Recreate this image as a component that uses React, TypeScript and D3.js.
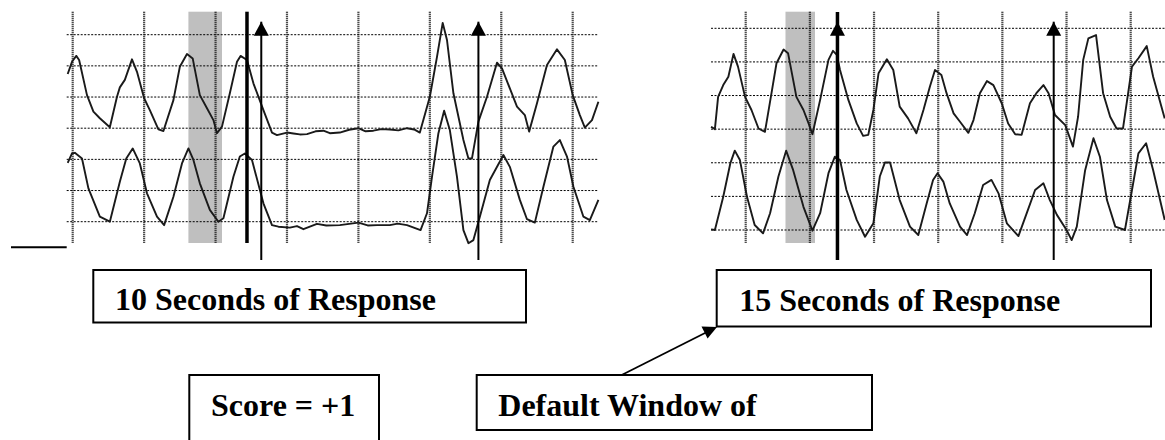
import * as d3 from "d3";

// t = grid divisions from the first vertical line, v = divisions above the lowest horizontal line
const leftGridT = [0, 1, 2, 3, 4, 5, 6, 7];
const leftGridV = [0, 1, 2, 3, 4, 5, 6];
const rightGridT = [0, 1, 2, 3, 4, 5, 6];
const rightGridV = [0, 1, 2, 3, 4, 5, 6];

const leftUpper: [number, number][] = [
  [-0.07, 4.74], [-0.01, 5.13], [0.05, 5.32], [0.09, 5.19], [0.2, 4.06], [0.29, 3.53], [0.38, 3.32],
  [0.52, 3.03], [0.62, 4.01], [0.66, 4.31], [0.73, 4.55], [0.83, 5.21], [0.9, 4.81], [1.0, 3.96],
  [1.08, 3.58], [1.2, 2.96], [1.27, 2.91], [1.41, 3.9], [1.5, 4.97], [1.6, 5.38], [1.68, 5.24],
  [1.78, 4.06], [1.88, 3.64], [1.97, 3.26], [2.02, 2.84], [2.09, 3.05], [2.2, 4.12], [2.3, 5.13],
  [2.35, 5.32], [2.44, 5.19], [2.53, 4.44], [2.67, 3.58], [2.79, 2.86], [2.86, 2.78], [3.0, 2.86],
  [3.09, 2.83], [3.18, 2.8], [3.28, 2.81], [3.4, 2.9], [3.51, 2.92], [3.6, 2.84], [3.74, 2.86],
  [3.87, 2.95], [4.0, 3.0], [4.1, 2.9], [4.21, 2.92], [4.32, 2.97], [4.44, 2.96], [4.56, 2.93],
  [4.68, 3.0], [4.78, 2.96], [4.86, 2.86], [5.0, 4.01], [5.1, 5.29], [5.18, 6.38], [5.24, 5.83],
  [5.33, 4.12], [5.47, 2.62], [5.54, 2.03], [5.59, 2.03], [5.68, 3.21], [5.8, 4.01], [5.94, 5.1],
  [6.01, 4.92], [6.22, 3.69], [6.33, 3.42], [6.39, 2.89], [6.5, 3.8], [6.64, 5.03], [6.78, 5.53],
  [6.89, 5.19], [7.0, 4.06], [7.1, 3.42], [7.17, 3.02], [7.27, 3.26], [7.36, 3.85],
];

const leftLower: [number, number][] = [
  [-0.07, 1.89], [-0.01, 2.19], [0.03, 2.21], [0.13, 2.03], [0.22, 1.07], [0.38, 0.16], [0.52, 0.0],
  [0.66, 1.28], [0.75, 2.03], [0.84, 2.35], [0.94, 1.87], [1.04, 0.91], [1.18, 0.16], [1.28, -0.11],
  [1.41, 0.8], [1.53, 1.87], [1.62, 2.35], [1.69, 1.98], [1.78, 1.23], [1.92, 0.38], [2.04, 0.0],
  [2.11, 0.11], [2.25, 1.44], [2.34, 2.09], [2.41, 2.19], [2.51, 1.98], [2.67, 0.59], [2.79, -0.11],
  [2.88, -0.16], [3.04, -0.19], [3.14, -0.14], [3.23, -0.24], [3.42, -0.07], [3.55, -0.12],
  [3.74, -0.11], [4.0, -0.03], [4.13, -0.12], [4.26, -0.11], [4.44, -0.11], [4.55, -0.06],
  [4.68, -0.11], [4.87, -0.27], [4.96, 0.27], [5.03, 1.44], [5.12, 2.84], [5.2, 3.56], [5.28, 2.94],
  [5.38, 1.44], [5.47, -0.27], [5.54, -0.69], [5.61, -0.59], [5.7, 0.16], [5.84, 1.34], [6.03, 2.14],
  [6.12, 1.76], [6.26, 0.7], [6.36, 0.08], [6.47, -0.03], [6.59, 1.12], [6.73, 2.41], [6.82, 2.62],
  [6.92, 2.09], [7.01, 1.12], [7.15, 0.16], [7.24, 0.05], [7.36, 0.7],
];

const rightUpper: [number, number][] = [
  [-0.54, 3.07], [-0.48, 3.0], [-0.43, 3.96], [-0.35, 4.31], [-0.27, 4.56], [-0.19, 5.24],
  [-0.12, 4.86], [-0.01, 3.96], [0.09, 3.57], [0.2, 3.02], [0.3, 2.92], [0.41, 4.16], [0.48, 4.96],
  [0.59, 5.37], [0.66, 5.26], [0.79, 3.96], [0.9, 3.57], [0.98, 3.17], [1.04, 2.85], [1.16, 3.87],
  [1.29, 5.06], [1.36, 5.33], [1.42, 5.21], [1.47, 4.76], [1.6, 3.87], [1.73, 3.17], [1.83, 2.8],
  [1.91, 2.83], [1.99, 3.57], [2.07, 4.66], [2.2, 5.08], [2.3, 4.76], [2.4, 3.67], [2.53, 3.32],
  [2.66, 2.88], [2.77, 3.57], [2.87, 4.26], [2.95, 4.76], [3.05, 4.61], [3.13, 4.07], [3.24, 3.47],
  [3.34, 3.22], [3.47, 2.89], [3.55, 3.27], [3.65, 4.07], [3.76, 4.43], [3.86, 4.31], [3.99, 3.77],
  [4.09, 3.17], [4.2, 2.85], [4.3, 2.83], [4.43, 3.77], [4.53, 4.07], [4.64, 4.31], [4.72, 4.07],
  [4.82, 3.42], [4.98, 3.12], [5.1, 2.48], [5.18, 3.37], [5.26, 5.06], [5.34, 5.7], [5.46, 5.8],
  [5.57, 4.07], [5.68, 3.37], [5.78, 3.02], [5.88, 3.02], [6.02, 4.86], [6.12, 5.11], [6.25, 5.47],
  [6.35, 4.56], [6.53, 3.32],
];

const rightLower: [number, number][] = [
  [-0.54, 0.02], [-0.48, 0.0], [-0.35, 0.99], [-0.24, 1.98], [-0.17, 2.36], [-0.09, 2.08],
  [0.02, 0.99], [0.14, 0.15], [0.27, -0.1], [0.38, 0.5], [0.51, 1.59], [0.63, 2.36], [0.74, 1.78],
  [0.9, 0.69], [1.04, -0.02], [1.16, 0.5], [1.29, 1.69], [1.39, 2.18], [1.47, 2.08], [1.57, 1.19],
  [1.73, 0.3], [1.86, -0.2], [1.99, 0.2], [2.09, 1.59], [2.17, 2.01], [2.25, 2.01], [2.4, 0.89],
  [2.56, 0.1], [2.69, -0.15], [2.82, 0.79], [2.92, 1.49], [2.99, 1.69], [3.08, 1.44], [3.18, 0.79],
  [3.34, 0.1], [3.45, -0.15], [3.57, 0.5], [3.7, 1.34], [3.83, 1.49], [3.94, 1.09], [4.07, 0.2],
  [4.25, -0.18], [4.38, 0.5], [4.51, 1.19], [4.64, 1.39], [4.74, 0.89], [4.85, 0.45], [5.0, 0.0],
  [5.08, -0.3], [5.16, 0.1], [5.29, 1.78], [5.42, 2.73], [5.52, 2.18], [5.63, 0.89], [5.76, 0.1],
  [5.91, 0.0], [6.02, 1.19], [6.12, 2.28], [6.24, 2.58], [6.35, 1.78], [6.53, 0.3],
];

// shaded windows, scoring lines and arrows (in grid divisions)
const leftBand = [1.62, 2.09];
const leftBar = 2.44;
const leftArrows = [2.64, 5.68];
const rightBand = [0.62, 1.08];
const rightArrows = [1.43, 4.8];

const boxLabels = ["10 Seconds of Response", "15 Seconds of Response", "Score = +1", "Default Window of"];

const FONT = "'Liberation Serif', 'Times New Roman', serif";

const W = 1165, H = 440;
const gridTop = 11.7, gridBottom = 243, arrowBottom = 260, arrowTip = 21.7;

const Arrow = ({ x, width = 2, top = arrowTip }: { x: number; width?: number; top?: number }) => (
  <g>
    <line x1={x} x2={x} y1={arrowBottom} y2={top} stroke="#000" strokeWidth={width} />
    <path d={`M${x},${arrowTip} L${x - 7.5},${arrowTip + 14} L${x + 7.5},${arrowTip + 14} Z`} fill="#000" />
  </g>
);

const Panel = ({ xs, ys, gridT, gridV, x0, x1, upper, lower, band }: any) => {
  const line = d3.line<[number, number]>().x(d => xs(d[0])).y(d => ys(d[1]));
  return (
    <g>
      <rect x={xs(band[0])} y={gridTop} width={xs(band[1]) - xs(band[0])} height={gridBottom - gridTop} fill="#bfbfbf" />
      {gridV.map((v: number) => (
        <line key={"h" + v} x1={x0} x2={x1} y1={ys(v)} y2={ys(v)} stroke="#000" strokeWidth={1} strokeDasharray="2,1.5" />
      ))}
      {gridT.map((t: number) => (
        <line key={"v" + t} x1={xs(t)} x2={xs(t)} y1={gridTop} y2={gridBottom} stroke="#111" strokeWidth={2.2} strokeDasharray="1,1" />
      ))}
      <path d={line(upper) ?? ""} fill="none" stroke="#1a1a1a" strokeWidth={1.9} strokeLinejoin="round" />
      <path d={line(lower) ?? ""} fill="none" stroke="#1a1a1a" strokeWidth={1.9} strokeLinejoin="round" />
    </g>
  );
};

const Box = ({ x, y, w, h, label, tx, ty }: any) => (
  <g>
    <rect x={x} y={y} width={w} height={h} fill="#fff" stroke="#000" strokeWidth={2} />
    <text x={tx} y={ty} fontFamily={FONT} fontWeight="bold" fontSize={32} fill="#000">{label}</text>
  </g>
);

export default function App() {
  const xL = d3.scaleLinear().domain([0, 7]).range([72.7, 572.7]);
  const yL = d3.scaleLinear().domain([0, 6]).range([221.7, 34.7]);
  const xR = d3.scaleLinear().domain([0, 6]).range([745.7, 1130.7]);
  const yR = d3.scaleLinear().domain([0, 6]).range([230, 28.3]);

  return (
    <div style={{ position: "absolute", left: 0, top: 0 }}>
      <svg width={W} height={H} style={{ display: "block", background: "#fff" }}>
        <Panel xs={xL} ys={yL} gridT={leftGridT} gridV={leftGridV} x0={66.7} x1={598}
          upper={leftUpper} lower={leftLower} band={leftBand} />
        <Panel xs={xR} ys={yR} gridT={rightGridT} gridV={rightGridV} x0={711} x1={W}
          upper={rightUpper} lower={rightLower} band={rightBand} />

        <line x1={xL(leftBar)} x2={xL(leftBar)} y1={gridTop} y2={gridBottom} stroke="#000" strokeWidth={3.5} />
        {leftArrows.map(t => <Arrow key={t} x={xL(t)} />)}
        <Arrow x={xR(rightArrows[0])} width={3.5} top={12} />
        <Arrow x={xR(rightArrows[1])} />

        <line x1={11} x2={66.7} y1={247.3} y2={247.3} stroke="#000" strokeWidth={2} />

        <Box x={93.3} y={270} w={432.7} h={52.5} label={boxLabels[0]} tx={115} ty={310} />
        <Box x={716.7} y={270} w={434.3} h={56.5} label={boxLabels[1]} tx={739.3} ty={311} />
        <Box x={189.3} y={375} w={189.7} h={80} label={boxLabels[2]} tx={211} ty={415.5} />
        <Box x={476.7} y={375} w={395.3} h={55} label={boxLabels[3]} tx={498.3} ty={415.5} />

        <line x1={621.7} y1={375} x2={708} y2={331.5} stroke="#000" strokeWidth={1.8} />
        <path d="M717,327 L701.5,326.5 L707.6,338.6 Z" fill="#000" />
      </svg>
    </div>
  );
}
